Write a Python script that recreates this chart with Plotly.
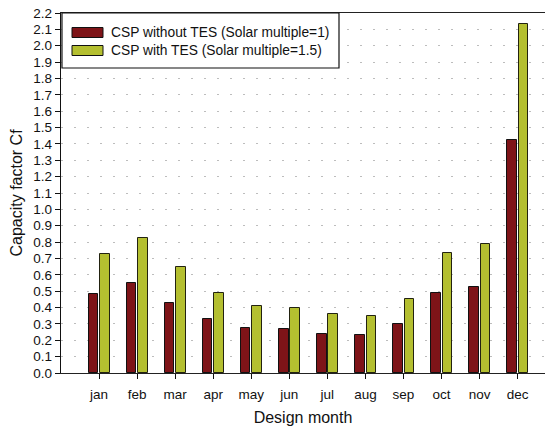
import plotly.graph_objects as go

months = ["jan", "feb", "mar", "apr", "may", "jun", "jul", "aug", "sep", "oct", "nov", "dec"]
cf_without_tes = [0.48, 0.55, 0.43, 0.33, 0.275, 0.267, 0.24, 0.232, 0.30, 0.487, 0.524, 1.424]
cf_with_tes = [0.725, 0.827, 0.645, 0.491, 0.411, 0.40, 0.36, 0.348, 0.452, 0.731, 0.786, 2.135]
name_without = "CSP without TES (Solar multiple=1)"
name_with = "CSP with TES (Solar multiple=1.5)"

red = "#7e1418"
green = "#b4bf30"
font = "Liberation Sans, Arial, sans-serif"

x_idx = list(range(len(months)))

fig = go.Figure()
fig.add_trace(go.Bar(
    x=x_idx, y=cf_without_tes, name=name_without,
    width=0.25, offset=-0.27,
    marker=dict(color=red, line=dict(color="#111111", width=1)),
    showlegend=False,
))
fig.add_trace(go.Bar(
    x=x_idx, y=cf_with_tes, name=name_with,
    width=0.25, offset=0.03,
    marker=dict(color=green, line=dict(color="#222211", width=1)),
    showlegend=False,
))

# legend box drawn in paper coordinates
fig.add_shape(type="rect", xref="paper", yref="paper",
              x0=0.002, x1=(339 - 61) / 484, y0=(373 - 68) / 360, y1=1.0,
              line=dict(color="#111111", width=1.2), fillcolor="white", layer="above")
for i, (nm, col) in enumerate([(name_without, red), (name_with, green)]):
    yc = 373 - (32.5 + 18 * i)
    fig.add_shape(type="rect", xref="paper", yref="paper",
                  x0=(72 - 61) / 484, x1=(103 - 61) / 484,
                  y0=(yc - 5) / 360, y1=(yc + 5) / 360,
                  fillcolor=col, line=dict(color="#111111", width=1), layer="above")
    fig.add_annotation(xref="paper", yref="paper", x=(109 - 61) / 484, y=yc / 360,
                       text=nm, showarrow=False, xanchor="left", yanchor="middle",
                       font=dict(family=font, size=13.8, color="#111111"))

fig.update_layout(
    width=547, height=428,
    margin=dict(l=61, r=2, t=13, b=55),
    plot_bgcolor="white", paper_bgcolor="white",
    font=dict(family=font, color="#111111"),
    bargap=0,
)
fig.update_xaxes(
    range=[-1, 11.72],
    tickmode="array", tickvals=x_idx, ticktext=months,
    ticks="outside", ticklen=5, tickcolor="#111111",
    tickfont=dict(size=13.5), ticklabelstandoff=4,
    showline=True, linecolor="#222222", linewidth=1.3, mirror=True,
    showgrid=False, zeroline=False,
    title=dict(text="Design month", font=dict(size=16), standoff=10),
)
fig.update_yaxes(
    range=[0, 2.2], dtick=0.1, tick0=0, tickformat=".1f",
    ticks="outside", ticklen=5, tickcolor="#111111",
    tickfont=dict(size=13.5),
    showline=True, linecolor="#111111", linewidth=1.3,
    showgrid=True, gridcolor="#bdbdbd", gridwidth=1, griddash="2px,11px",
    zeroline=False,
    title=dict(text="Capacity factor Cf", font=dict(size=16), standoff=6),
)

fig.write_html("out.html")
